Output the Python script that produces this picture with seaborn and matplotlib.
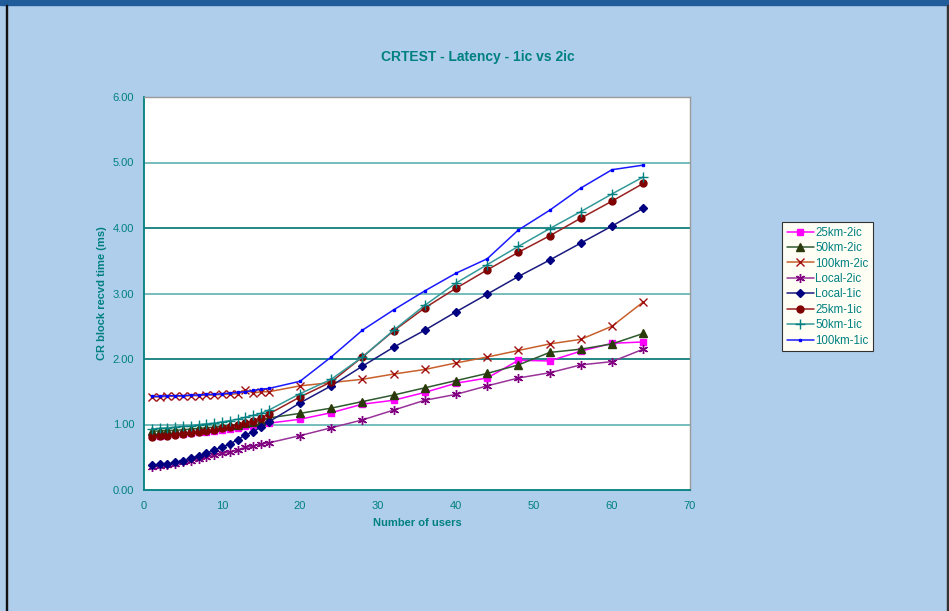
import matplotlib
matplotlib.use("Agg")
import matplotlib.pyplot as plt
from matplotlib.patches import Rectangle
from matplotlib.lines import Line2D
import seaborn as sns
import pandas as pd

# Number of concurrent users at each measurement
users = list(range(1, 17)) + [20, 24, 28, 32, 36, 40, 44, 48, 52, 56, 60, 64]

# CR block received time (ms) per configuration
km25_2ic = [0.83, 0.83, 0.84, 0.85, 0.86, 0.87, 0.88, 0.89, 0.90, 0.92, 0.93, 0.95, 0.97, 0.98, 1.00, 1.02,
            1.08, 1.18, 1.31, 1.37, 1.49, 1.63, 1.71, 1.98, 1.97, 2.12, 2.24, 2.26]
km50_2ic = [0.90, 0.90, 0.91, 0.91, 0.92, 0.93, 0.94, 0.95, 0.96, 0.97, 0.99, 1.00, 1.02, 1.04, 1.06, 1.10,
            1.17, 1.25, 1.35, 1.45, 1.56, 1.67, 1.78, 1.91, 2.10, 2.15, 2.23, 2.39]
km100_2ic = [1.42, 1.42, 1.43, 1.43, 1.43, 1.44, 1.44, 1.45, 1.45, 1.46, 1.46, 1.47, 1.53, 1.48, 1.50, 1.50,
             1.59, 1.64, 1.69, 1.77, 1.84, 1.94, 2.03, 2.13, 2.23, 2.30, 2.50, 2.87]
local_2ic = [0.35, 0.36, 0.38, 0.40, 0.42, 0.44, 0.47, 0.50, 0.53, 0.56, 0.58, 0.61, 0.65, 0.67, 0.70, 0.72,
             0.83, 0.95, 1.07, 1.22, 1.37, 1.46, 1.59, 1.71, 1.79, 1.91, 1.96, 2.15]
local_1ic = [0.38, 0.39, 0.40, 0.42, 0.45, 0.49, 0.52, 0.56, 0.61, 0.66, 0.70, 0.77, 0.84, 0.89, 0.96, 1.04,
             1.33, 1.59, 1.89, 2.18, 2.44, 2.72, 2.99, 3.26, 3.51, 3.77, 4.03, 4.30]
km25_1ic = [0.81, 0.82, 0.83, 0.84, 0.85, 0.87, 0.88, 0.90, 0.92, 0.94, 0.96, 0.99, 1.02, 1.06, 1.10, 1.16,
            1.42, 1.65, 2.03, 2.43, 2.78, 3.08, 3.36, 3.63, 3.88, 4.15, 4.41, 4.68]
km50_1ic = [0.93, 0.94, 0.95, 0.96, 0.97, 0.98, 1.00, 1.01, 1.02, 1.04, 1.06, 1.08, 1.11, 1.14, 1.17, 1.22,
            1.47, 1.69, 2.03, 2.44, 2.82, 3.16, 3.44, 3.72, 3.99, 4.25, 4.52, 4.78]
km100_1ic = [1.43, 1.43, 1.44, 1.44, 1.44, 1.45, 1.45, 1.46, 1.46, 1.47, 1.48, 1.49, 1.50, 1.52, 1.54, 1.55,
             1.66, 2.03, 2.44, 2.75, 3.04, 3.31, 3.53, 3.97, 4.27, 4.61, 4.89, 4.96]

series_names = ["25km-2ic", "50km-2ic", "100km-2ic", "Local-2ic",
                "Local-1ic", "25km-1ic", "50km-1ic", "100km-1ic"]
series_values = [km25_2ic, km50_2ic, km100_2ic, local_2ic,
                 local_1ic, km25_1ic, km50_1ic, km100_1ic]

# line colour, marker, marker face, marker edge, marker size
styles = {
    "25km-2ic":  ("#FF00FF", "s", "#FF00FF", "#FF00FF", 4.8),
    "50km-2ic":  ("#2F5A2F", "^", "#2A3A0A", "#2A3A0A", 5.2),
    "100km-2ic": ("#C8602C", "x", "none", "#A01010", 5.5),
    "Local-2ic": ("#993399", (6, 2, 0), "#800080", "#800080", 6.5),
    "Local-1ic": ("#1A1A80", "D", "#000080", "#000080", 4.2),
    "25km-1ic":  ("#992020", "o", "#800000", "#800000", 5.0),
    "50km-1ic":  ("#339999", "+", "#008080", "#008080", 7.0),
    "100km-1ic": ("#1A1AFF", "s", "#0000FF", "#0000FF", 1.8),
}

teal = "#008080"
bg = "#AFCEEC"

sns.set_theme(style="white")
plt.rcParams["font.family"] = ["Liberation Sans", "DejaVu Sans"]

fig = plt.figure(figsize=(9.49, 6.11), dpi=100, facecolor=bg)
ax = fig.add_axes([144 / 949, 1 - 490 / 611, (690 - 144) / 949, (490 - 97) / 611])
ax.set_facecolor("white")

# frame decorations around the chart window
fig.patches.append(Rectangle((0, 1 - 5 / 611), 1, 5 / 611, transform=fig.transFigure,
                             color="#1F5C99", zorder=0))
fig.patches.append(Rectangle((5.5 / 949, 0), 1.0 / 949, 1 - 5 / 611, transform=fig.transFigure,
                             color="#111111", zorder=0))
fig.patches.append(Rectangle((947 / 949, 0), 1.0 / 949, 1 - 5 / 611, transform=fig.transFigure,
                             color="#333333", zorder=0))

# horizontal gridlines
for gy, gc in zip([1, 2, 3, 4, 5], ["#5FB0B0", "#007373", "#5FB0B0", "#007373", "#5FB0B0"]):
    ax.axhline(gy, color=gc, lw=1.2, zorder=1)

handles = []
for name, vals in zip(series_names, series_values):
    lc, mk, mfc, mec, ms = styles[name]
    df = pd.DataFrame({"users": users, "latency": vals})
    sns.lineplot(data=df, x="users", y="latency", ax=ax, color=lc, lw=1.1,
                 marker=mk, markersize=ms, markerfacecolor=mfc, markeredgecolor=mec,
                 markeredgewidth=1.0, zorder=3, legend=False)
    handles.append(Line2D([0], [0], color=lc, lw=1.1, marker=mk, markersize=ms,
                          markerfacecolor=mfc, markeredgecolor=mec, markeredgewidth=1.0,
                          label=name))

ax.set_xlim(0, 70)
ax.set_ylim(0, 6)
ax.set_xticks(range(0, 71, 10))
ax.set_yticks([0, 1, 2, 3, 4, 5, 6])
ax.set_yticklabels([f"{v:.2f}" for v in [0, 1, 2, 3, 4, 5, 6]])
ax.tick_params(axis="both", colors=teal, labelsize=8, length=4, width=1, direction="out")
ax.tick_params(axis="x", pad=4)
ax.tick_params(axis="y", pad=3)
for lab in ax.get_xticklabels() + ax.get_yticklabels():
    lab.set_color(teal)

for side in ["left", "bottom"]:
    ax.spines[side].set_color(teal)
    ax.spines[side].set_linewidth(1.3)
for side in ["top", "right"]:
    ax.spines[side].set_color("#9A9A9A")
    ax.spines[side].set_linewidth(1.0)

ax.set_xlabel("Number of users", color=teal, fontsize=8, fontweight="bold", labelpad=5)
ax.set_ylabel("CR block recvd time (ms)", color=teal, fontsize=8, fontweight="bold", labelpad=4)

fig.text(478 / 949, 1 - 57 / 611, "CRTEST - Latency - 1ic vs 2ic", color=teal,
         fontsize=10, fontweight="bold", ha="center", va="center")

leg = fig.legend(handles=handles, loc="upper left",
                 bbox_to_anchor=(782 / 949, 1 - 222 / 611), fontsize=8.3,
                 frameon=True, fancybox=False, handlelength=2.4, handletextpad=0.1,
                 labelspacing=0.3, borderpad=0.4, borderaxespad=0)
leg.get_frame().set_facecolor("#FFFEF5")
leg.get_frame().set_edgecolor("#333333")
leg.get_frame().set_linewidth(0.8)
leg.get_frame().set_alpha(1)
for t in leg.get_texts():
    t.set_color(teal)

fig.savefig("out.png", dpi=100, facecolor=bg)
